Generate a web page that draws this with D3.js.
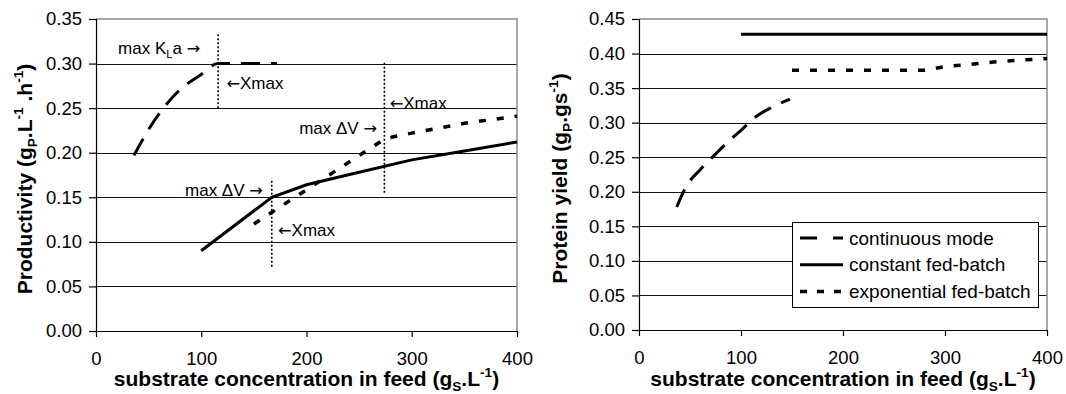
<!DOCTYPE html>
<html>
<head>
<meta charset="utf-8">
<script src="https://cdn.jsdelivr.net/npm/d3@7"></script>
<style>
  body { margin: 0; background: #fff; }
  svg { display: block; }
  text { font-family: "Liberation Sans", Arial, sans-serif; fill: #000; }
</style>
</head>
<body>
<div id="chart"></div>
<script>
var svgWidth = 1066;
var svgHeight = 394;

// shared x ticks
var xTicks = [0, 100, 200, 300, 400];
var prodTicks = [0, 0.05, 0.10, 0.15, 0.20, 0.25, 0.30, 0.35];
var yieldTicks = [0, 0.05, 0.10, 0.15, 0.20, 0.25, 0.30, 0.35, 0.40, 0.45];

// left panel: productivity
var contProdX = [36, 50, 64, 80, 99, 116, 140, 172];
var contProdY = [0.197, 0.226, 0.250, 0.271, 0.287, 0.300, 0.300, 0.300];
var constProdX = [100, 167, 200, 250, 300, 350, 400];
var constProdY = [0.090, 0.150, 0.164, 0.178, 0.192, 0.202, 0.212];
var expProdX = [150, 275, 300, 350, 400];
var expProdY = [0.120, 0.216, 0.222, 0.233, 0.241];

// right panel: protein yield
var contYieldX = [37, 46, 60, 74, 90, 100, 115, 130, 148];
var contYieldY = [0.178, 0.207, 0.232, 0.253, 0.276, 0.289, 0.309, 0.322, 0.334];
var constYieldX = [100, 400];
var constYieldY = [0.428, 0.428];
var expYieldX = [150, 280, 300, 350, 400];
var expYieldY = [0.376, 0.376, 0.381, 0.388, 0.393];

// dotted markers on the productivity panel (x, from y, to y)
var markerX = [116, 274, 167];
var markerY0 = [0.250, 0.155, 0.072];
var markerY1 = [0.335, 0.302, 0.171];

var seriesNames = ["continuous mode", "constant fed-batch", "exponential fed-batch"];

var styles = {
  continuous: {dash: "19,11", width: 3},
  constant: {dash: null, width: 3},
  exponential: {dash: "7,11", width: 3.5}
};

var svg = d3.select("#chart")
  .append("svg")
    .attr("width", svgWidth)
    .attr("height", svgHeight);

// writes text made of normal / sub / sup / arrow pieces
function richText(sel, parts, size) {
  var shift = 0;
  parts.forEach(function(p) {
    var target = 0, fs = size;
    if (p[1] === "sub") { target = size * 0.22; fs = size * 0.65; }
    if (p[1] === "sup") { target = -size * 0.42; fs = size * 0.65; }
    var t = sel.append("tspan")
      .attr("font-size", fs)
      .attr("dy", target - shift)
      .text(p[0]);
    if (p[1] === "arrow") t.attr("font-family", '"DejaVu Sans", sans-serif').attr("font-size", size * 0.95);
    shift = target;
  });
}

function pairs(xs, ys) {
  return xs.map(function(x, i) { return [x, ys[i]]; });
}

function drawPanel(opt) {
  var x = d3.scaleLinear().domain([0, 400]).range([opt.left, opt.right]);
  var y = d3.scaleLinear().domain([0, opt.yMax]).range([opt.bottom, opt.top]);
  var g = svg.append("g");

  // gridlines
  g.selectAll(".grid")
    .data(opt.yTicks.slice(1, -1))
    .enter()
    .append("line")
      .attr("x1", opt.left).attr("x2", opt.right)
      .attr("y1", d => Math.round(y(d)) + 0.5).attr("y2", d => Math.round(y(d)) + 0.5)
      .attr("stroke", "#111")
      .attr("stroke-width", 1);

  // plot border (top / right gray)
  g.append("path")
    .attr("d", `M${opt.left},${y(opt.yMax)}H${opt.right}V${opt.bottom}`)
    .attr("fill", "none")
    .attr("stroke", "#8a8a8a")
    .attr("stroke-width", 1.5);

  var xAxis = d3.axisBottom(x).tickValues(xTicks).tickSize(6).tickPadding(15).tickFormat(d3.format("d"));
  var yAxis = d3.axisLeft(y).tickValues(opt.yTicks).tickSize(7).tickPadding(7).tickFormat(d3.format(".2f"));

  var gx = g.append("g")
    .attr("transform", `translate(0, ${opt.bottom})`)
    .call(xAxis);
  var gy = g.append("g")
    .attr("transform", `translate(${opt.left}, 0)`)
    .call(yAxis);
  [gx, gy].forEach(function(a) {
    a.select(".domain").attr("stroke", "#000").attr("stroke-width", 1.2);
    a.selectAll(".tick line").attr("stroke", "#000").attr("stroke-width", 1.2);
    a.selectAll("text")
      .attr("font-family", '"Liberation Sans", Arial, sans-serif')
      .attr("font-size", 18.5)
      .attr("fill", "#000");
  });
  gx.select(".domain").attr("d", `M${opt.left},0.5H${opt.right}`);
  gy.select(".domain").attr("d", `M0.5,${opt.bottom}V${opt.top}`);

  var line = d3.line().x(d => x(d[0])).y(d => y(d[1]));
  var lineSmooth = d3.line().x(d => x(d[0])).y(d => y(d[1])).curve(d3.curveMonotoneX);

  opt.series.forEach(function(s) {
    var st = styles[s.kind];
    g.append("path")
      .datum(pairs(s.xs, s.ys))
      .attr("d", s.kind === "continuous" ? lineSmooth : line)
      .attr("fill", "none")
      .attr("stroke", "#000")
      .attr("stroke-width", st.width)
      .attr("stroke-dasharray", st.dash);
  });

  // axis titles
  var xt = g.append("text")
    .attr("x", (opt.left + opt.right) / 2)
    .attr("y", 386)
    .attr("text-anchor", "middle")
    .attr("font-weight", "bold")
    .attr("font-size", 21);
  richText(xt, [["substrate concentration in feed (g"], ["S", "sub"], [".L"], ["-1", "sup"], [")"]], 21);

  var yt = g.append("text")
    .attr("transform", `translate(${opt.yTitleX}, ${(opt.top + opt.bottom) / 2 + 4}) rotate(-90)`)
    .attr("text-anchor", "middle")
    .attr("font-weight", "bold")
    .attr("font-size", 21);
  richText(yt, opt.yTitle, 21);

  return {g: g, x: x, y: y};
}

// ---- left panel
var left = drawPanel({
  left: 96, right: 517, top: 19, bottom: 331,
  yMax: 0.35, yTicks: prodTicks, yTitleX: 32,
  yTitle: [["Productivity (g"], ["P", "sub"], [".L"], ["-1", "sup"], [" .h"], ["-1", "sup"], [")"]],
  series: [
    {kind: "continuous", xs: contProdX, ys: contProdY},
    {kind: "constant", xs: constProdX, ys: constProdY},
    {kind: "exponential", xs: expProdX, ys: expProdY}
  ]
});

left.g.selectAll(".marker")
  .data(markerX)
  .enter()
  .append("line")
    .attr("x1", d => left.x(d)).attr("x2", d => left.x(d))
    .attr("y1", (d, i) => left.y(markerY0[i]))
    .attr("y2", (d, i) => left.y(markerY1[i]))
    .attr("stroke", "#000")
    .attr("stroke-width", 1.6)
    .attr("stroke-dasharray", "2,2");

// annotation labels: [x, y, parts]
var notes = [
  [21, 0.311, [["max K"], ["L", "sub"], ["a "], ["\u2192", "arrow"]]],
  [124, 0.271, [["\u2190", "arrow"], ["Xmax"]]],
  [279, 0.2487, [["\u2190", "arrow"], ["Xmax"]]],
  [193, 0.2213, [["max \u0394V "], ["\u2192", "arrow"]]],
  [84.6, 0.1518, [["max \u0394V "], ["\u2192", "arrow"]]],
  [173, 0.1066, [["\u2190", "arrow"], ["Xmax"]]]
];
notes.forEach(function(n) {
  var t = left.g.append("text")
    .attr("x", left.x(n[0]))
    .attr("y", left.y(n[1]))
    .attr("font-size", 17);
  richText(t, n[2], 17);
});

// ---- right panel
var right = drawPanel({
  left: 639, right: 1047, top: 19, bottom: 330,
  yMax: 0.45, yTicks: yieldTicks, yTitleX: 567,
  yTitle: [["Protein yield (g"], ["P", "sub"], [".gs"], ["-1", "sup"], [")"]],
  series: [
    {kind: "continuous", xs: contYieldX, ys: contYieldY},
    {kind: "constant", xs: constYieldX, ys: constYieldY},
    {kind: "exponential", xs: expYieldX, ys: expYieldY}
  ]
});

// legend
var legend = right.g.append("g").attr("transform", "translate(792, 222)");
legend.append("rect")
  .attr("x", 0.5).attr("y", 0.5)
  .attr("width", 246).attr("height", 85)
  .attr("fill", "#fff")
  .attr("stroke", "#000")
  .attr("stroke-width", 1);
var kinds = ["continuous", "constant", "exponential"];
var legendItem = legend.selectAll(".item")
  .data(seriesNames)
  .enter()
  .append("g")
    .attr("transform", (d, i) => `translate(0, ${16 + i * 26.8})`);
legendItem.append("line")
  .attr("x1", 8).attr("x2", 51)
  .attr("stroke", "#000")
  .attr("stroke-width", (d, i) => styles[kinds[i]].width)
  .attr("stroke-dasharray", (d, i) => i === 0 ? "17,16" : (i === 2 ? "7,10" : null));
legendItem.append("text")
  .attr("x", 57)
  .attr("y", 6.5)
  .attr("font-size", 19)
  .text(d => d);
</script>
</body>
</html>
